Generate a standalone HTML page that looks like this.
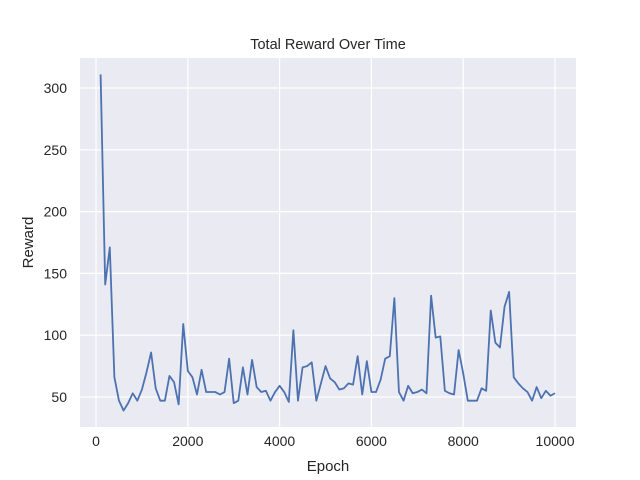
<!DOCTYPE html>
<html><head><meta charset="utf-8"><style>
body{margin:0;background:#fff;font-family:"Liberation Sans",sans-serif;}
</style></head><body>
<svg id="c" width="640" height="480" style="display:block"></svg>
<script>
const epochs=[];for(let i=1;i<=100;i++)epochs.push(i*100);
const rewards=[311,141,171,66,47,39,45,53,47,56,70,86,57,47,47,67,62,44,109,71,66,52,72,54,54,54,52,54,81,45,47,74,52,80,58,54,55,47,54,59,54,46,104,47,74,75,78,47,61,75,65,62,56,57,61,60,83,52,79,54,54,64,81,83,130,54,47,59,53,54,56,53,132,98,99,55,53,52,88,69,47,47,47,57,55,120,94,90,123,135,66,61,57,54,47,58,49,55,51,53];
const xTicks=[0,2000,4000,6000,8000,10000];
const yTicks=[50,100,150,200,250,300];
const L=80,R=576,T=58,B=427;
const xMin=-349,xMax=10457,yMin=25.7,yMax=324.3;
const X=v=>L+(v-xMin)/(xMax-xMin)*(R-L);
const Y=v=>B-(v-yMin)/(yMax-yMin)*(B-T);
const s=document.getElementById('c');const NS='http://www.w3.org/2000/svg';
function mk(t,a,txt){const e=document.createElementNS(NS,t);for(const k in a)e.setAttribute(k,a[k]);if(txt!==undefined)e.textContent=txt;s.appendChild(e);return e;}
let e=mk('rect',{x:L,y:T,width:R-L,height:B-T,fill:'#eaeaf2'});


xTicks.forEach(t=>{let g=mk('line',{x1:X(t),x2:X(t),y1:T,y2:B,stroke:'#fff','stroke-width':1.2});


let l=mk('text',{x:X(t),y:B+19,'text-anchor':'middle','font-size':14,fill:'#262626'},t);

});
yTicks.forEach(t=>{let g=mk('line',{x1:L,x2:R,y1:Y(t),y2:Y(t),stroke:'#fff','stroke-width':1.2});


let l=mk('text',{x:L-13,y:Y(t)+5,'text-anchor':'end','font-size':14,fill:'#262626'},t);

});
let p=mk('polyline',{points:epochs.map((v,i)=>X(v)+','+Y(rewards[i])).join(' '),fill:'none',stroke:'#4c72b0','stroke-width':1.8,'stroke-linejoin':'round'});


let t1=mk('text',{x:(L+R)/2,y:49,'text-anchor':'middle','font-size':14.5,fill:'#262626'},'Total Reward Over Time');


let t2=mk('text',{x:(L+R)/2,y:471,'text-anchor':'middle','font-size':15,fill:'#262626'},'Epoch');


let t3=mk('text',{x:33,y:(T+B)/2,'text-anchor':'middle','font-size':15,fill:'#262626',transform:'rotate(-90 33 '+((T+B)/2)+')'},'Reward');


</script>
</body></html>
